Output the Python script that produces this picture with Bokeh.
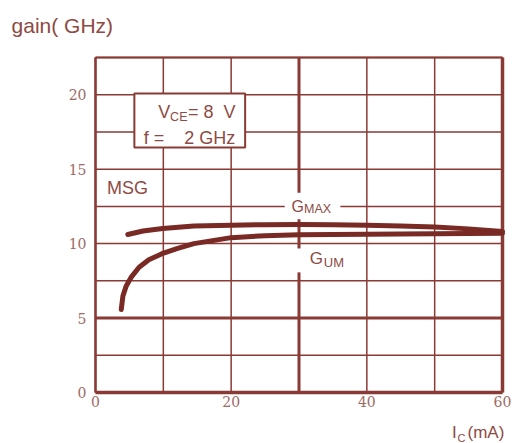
from bokeh.plotting import figure
from bokeh.models import Range1d, Label
from bokeh.core.properties import value
from bokeh.embed import file_html
from bokeh.resources import INLINE

# ---- data ----
gmax_ic = [4.76, 7, 9.9, 14.5, 20, 25, 30, 35, 40, 45, 50, 55, 60]
gmax_gain = [10.61, 10.85, 11.02, 11.18, 11.24, 11.27, 11.28, 11.27, 11.24, 11.19, 11.12, 10.99, 10.82]

gum_ic = [3.8, 4.04, 4.53, 5.24, 6.43, 7.86, 9.8, 12.0, 14.5, 20, 25, 30, 40, 50, 60]
gum_gain = [5.58, 6.48, 7.16, 7.73, 8.41, 8.91, 9.32, 9.66, 10.0, 10.4, 10.53, 10.6, 10.63, 10.66, 10.7]

x_ticks = [0, 20, 40, 60]
x_tick_labels = ["0", "20", "40", "60"]
y_ticks = [0, 5, 10, 15, 20]
y_tick_labels = ["0", "5", "10", "15", "20"]
x_grid = [0, 10, 20, 30, 40, 50, 60]
y_grid = [0, 2.5, 5, 7.5, 10, 12.5, 15, 17.5, 20, 22.5]

X_MIN, X_MAX = 0, 60
Y_MIN, Y_MAX = 0, 22.5

# ---- styling ----
LINE = "#8a3a34"
CURVE = "#7a2a24"
TEXT = "#8e4a44"
NUM = "#9c6a64"
SANS = "Liberation Sans"
NB = "\u00a0"

W, H = 517, 443
PX_L, PX_R, PX_T, PX_B = 95, 502, 57, 392          # plot box in canvas pixels
sx = (PX_R - PX_L) / (X_MAX - X_MIN)
sy = (PX_B - PX_T) / (Y_MAX - Y_MIN)

p = figure(width=W, height=H, output_backend="svg", toolbar_location=None,
           x_axis_type=None, y_axis_type=None,
           x_range=Range1d(X_MIN - PX_L / sx, X_MAX + (W - PX_R) / sx),
           y_range=Range1d(Y_MIN - (H - PX_B) / sy, Y_MAX + PX_T / sy),
           min_border=0)
p.min_border_left = p.min_border_right = p.min_border_top = p.min_border_bottom = 0
p.background_fill_color = "white"
p.border_fill_color = "white"
p.outline_line_color = None
p.grid.visible = False

# grid
p.segment(x0=x_grid, y0=[Y_MIN] * len(x_grid), x1=x_grid, y1=[Y_MAX] * len(x_grid),
          line_color=LINE, line_width=1.5)
p.segment(x0=[X_MIN] * len(y_grid), y0=y_grid, x1=[X_MAX] * len(y_grid), y1=y_grid,
          line_color=LINE, line_width=1.5)

# heavier rules
p.segment(x0=[30], y0=[Y_MIN], x1=[30], y1=[Y_MAX], line_color=LINE, line_width=3)
p.segment(x0=[X_MIN], y0=[5], x1=[X_MAX], y1=[5], line_color=LINE, line_width=3)
p.segment(x0=[X_MIN], y0=[Y_MIN], x1=[X_MAX], y1=[Y_MIN], line_color=LINE, line_width=3.5)
p.segment(x0=[X_MIN], y0=[Y_MAX], x1=[X_MAX], y1=[Y_MAX], line_color=LINE, line_width=2)
p.segment(x0=[X_MIN], y0=[Y_MIN], x1=[X_MIN], y1=[Y_MAX], line_color=LINE, line_width=2.5)
p.segment(x0=[X_MAX], y0=[Y_MIN], x1=[X_MAX], y1=[Y_MAX], line_color=LINE, line_width=3.5)

# gaps in grid around labels
p.quad(left=[27.9, 29.0], right=[36.1, 31.0], bottom=[11.64, 8.07], top=[13.41, 9.67],
       fill_color="white", line_color=None)

# condition box
p.quad(left=[5.73], right=[22.06], bottom=[16.45], top=[20.08],
       fill_color="white", line_color=LINE, line_width=2)

# curves
p.line(gmax_ic, gmax_gain, line_color=CURVE, line_width=5, line_cap="round", line_join="round")
p.line(gum_ic, gum_gain, line_color=CURVE, line_width=5, line_cap="round", line_join="round")

# tick labels
p.text(x=x_ticks, y=[Y_MIN] * len(x_ticks), text=x_tick_labels, y_offset=3,
       text_align="center", text_baseline="top", text_font=value("DejaVu Serif"),
       text_font_size="14px", text_color=NUM)
p.text(x=[X_MIN] * len(y_ticks), y=y_ticks, text=y_tick_labels, x_offset=-9,
       text_align="right", text_baseline="middle", text_font=value("DejaVu Serif"),
       text_font_size="14px", text_color=NUM)


def lab(x, y, t, size, bold=False, font=SANS, color=TEXT):
    p.add_layout(Label(x=x, y=y, text=t, text_font=font, text_font_size=f"{size}px",
                       text_color=color, text_baseline="middle", text_align="left",
                       text_font_style="bold" if bold else "normal"))


lab(-12.38, 24.67, "gain(" + NB + "GHz)", 21)
lab(52.55, -2.69, "I", 17)
lab(53.37, -3.03, "C", 11)
lab(54.84, -2.69, "(mA)", 17)

lab(1.68, 13.74, "MSG", 18)
lab(9.25, 18.82, "V", 18)
lab(11.0, 18.52, "CE", 12.5)
lab(13.65, 18.82, "=" + NB + "8" + NB + NB + "V", 18)
lab(7.1, 17.08, "f" + NB + "=" + NB * 4 + "2" + NB + "GHz", 18)

lab(28.9, 12.50, "G", 16)
lab(30.75, 12.34, "MAX", 12.5)
lab(31.57, 9.0, "G", 17)
lab(33.66, 8.73, "UM", 13)

open("out.html", "w").write(file_html(p, INLINE))
